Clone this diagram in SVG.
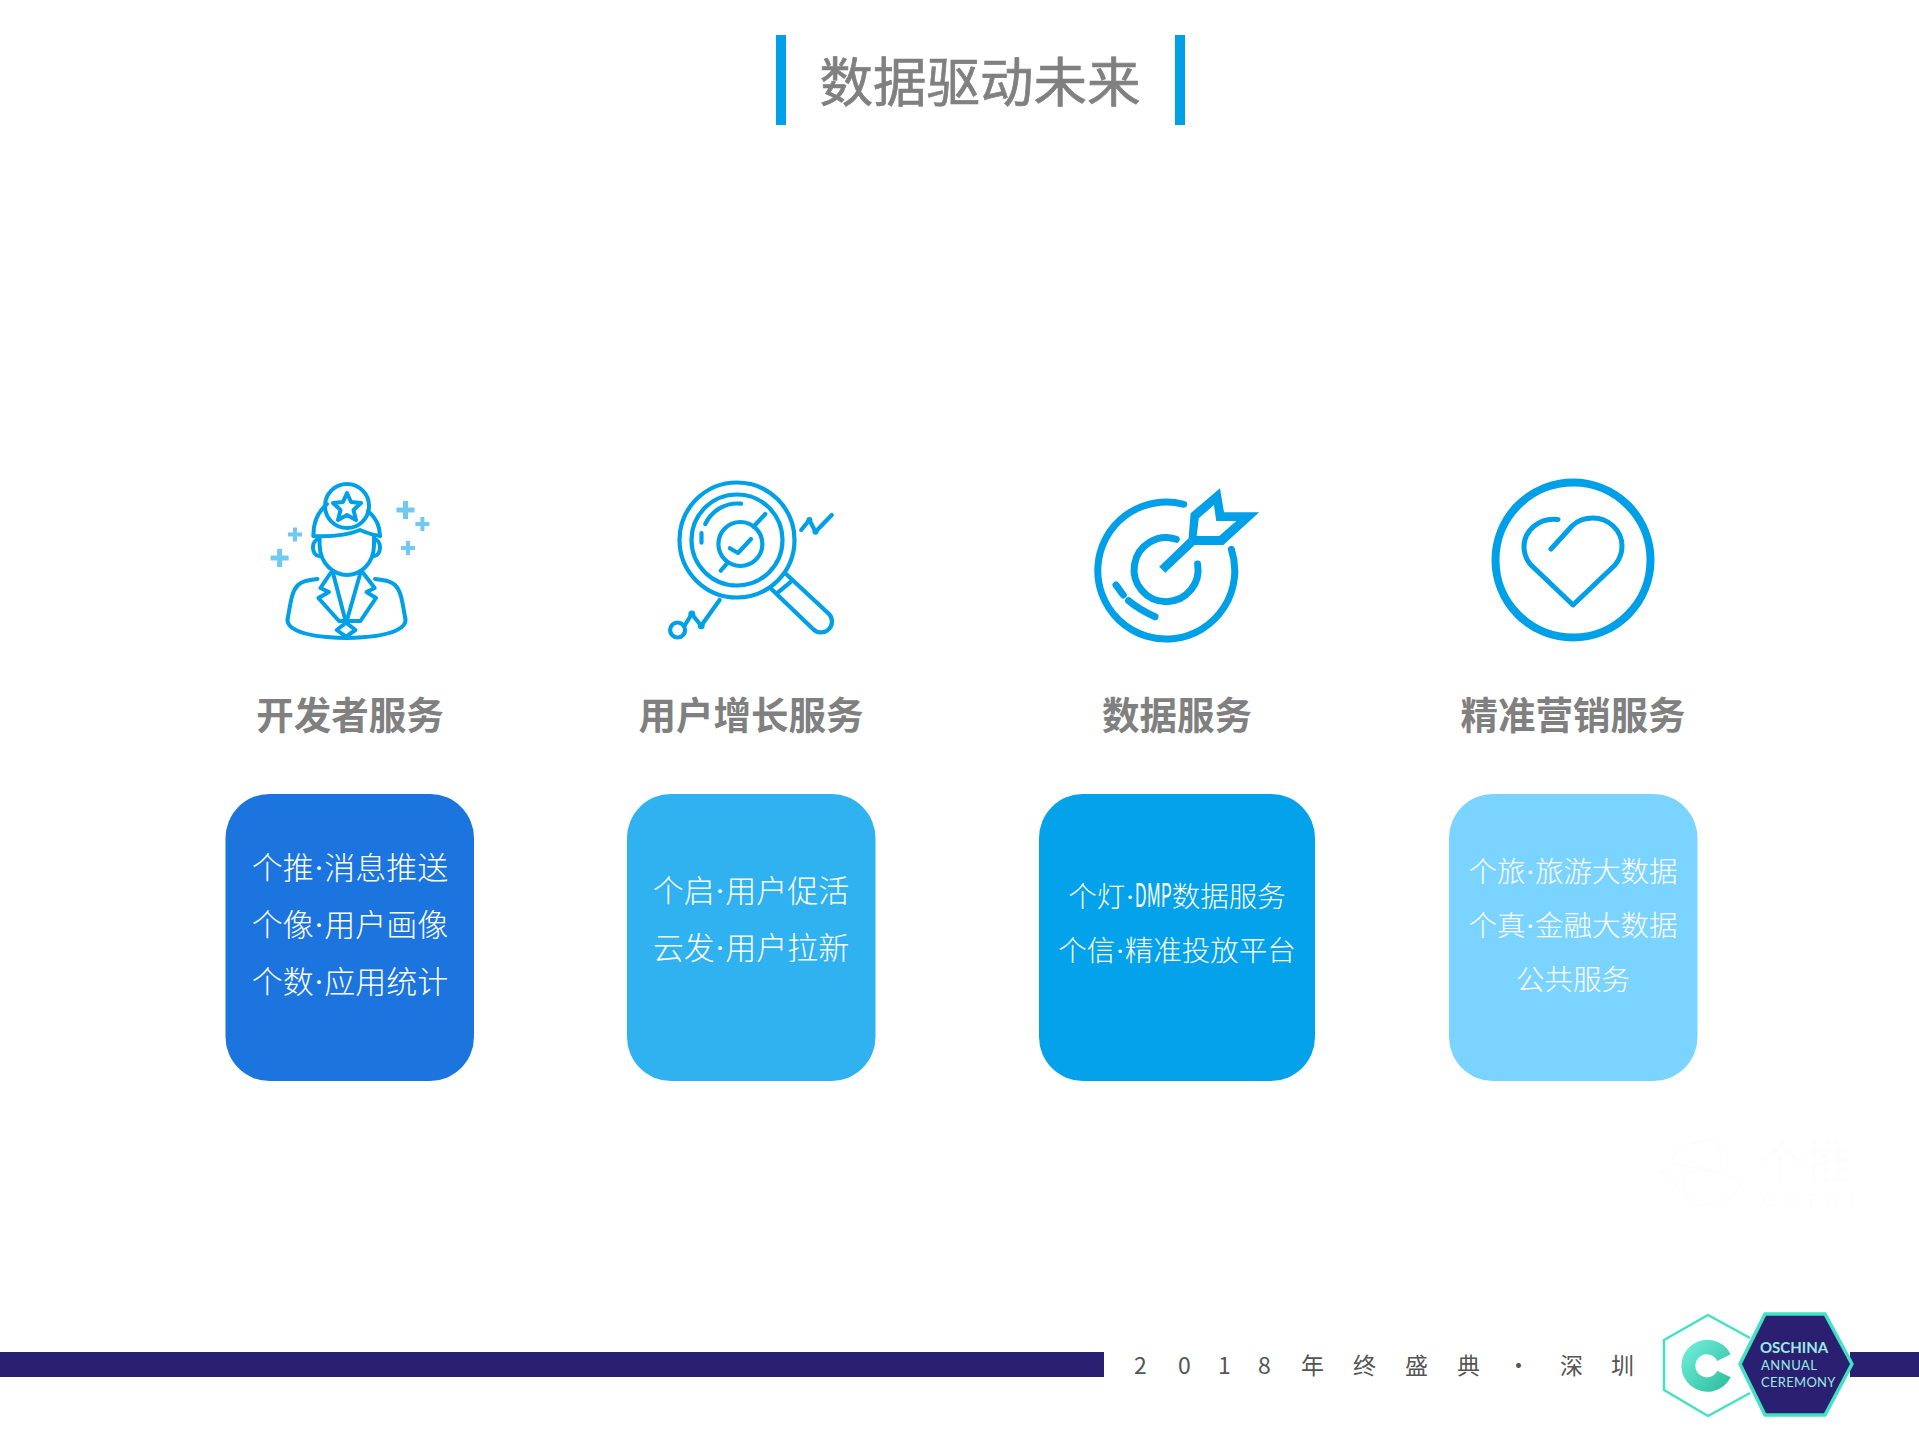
<svg xmlns="http://www.w3.org/2000/svg" width="1919" height="1439" viewBox="0 0 1919 1439">
<defs>
<linearGradient id="cg" x1="0" y1="0" x2="1" y2="1"><stop offset="0" stop-color="#72F2DE"/><stop offset="1" stop-color="#2CBB9B"/></linearGradient>
</defs>
<style>
text{font-family:"Noto Sans CJK SC","Noto Sans",sans-serif}
.bar{fill:#00A0E9}
.ic{fill:none;stroke:#00A0E9;stroke-linecap:round;stroke-linejoin:round}
.w4{stroke-width:4.200}
.fill{fill:#00A0E9;stroke:none}
.plus{fill:#6FC9F2}
.label{font-size:37.500px;font-weight:700;fill:#808080;text-anchor:middle}
.body{fill:#fff;font-size:31px;font-weight:300;text-anchor:middle}
.body2{fill:#fff;font-size:28.500px;font-weight:300;text-anchor:middle}
.dot{font-family:"Liberation Serif",serif}
.logo{fill:#9BEBE3;font-family:Lato,"Noto Sans",sans-serif}
.wm{fill:none;stroke:#FCFCFC;stroke-width:1.500}
</style>
<rect width="1919" height="1439" fill="#fff"/>

<g id="title">
<rect class="bar" x="776" y="35" width="10" height="90"/>
<rect class="bar" x="1175" y="35" width="10" height="90"/>
<text x="980" y="101.500" font-size="53.500" fill="#808080" stroke="#808080" stroke-width="0.700" text-anchor="middle">数据驱动未来</text>
</g>

<g id="icon-developer">
<g class="ic" stroke-width="4">
<circle cx="347" cy="506" r="22"/>
<polygon points="347,493 351,502 361,503 353.500,510 356,520 347,515 338,520 340.500,510 333,503 343,502"/>
<path d="M313.500 536C313 522 319 511 327 504M368 511C375 517 380 525 380 536"/>
<path d="M313.500 536C335 537 348 535 360 530C367 533 372 535 380 536"/>
<path d="M319.600 537V545C320 565 335 575 347 575C359 575 374 565 374 545V537"/>
<path d="M319 539C311 540 311 555 319 556M374 539C382 540 382 555 374 556"/>
<path d="M317.500 579C308 580 302 581 298 585C292 591 291 600 288 617C285 626 295 637 346 638C398 637 408 626 405 617C402 600 401 591 395 585C391 581 385 580 375 579"/>
<polyline points="330.600,573 320.400,588 329,592 318.400,598 339,621 360.400,621 376,598 366.500,592 374.700,588 362.400,572"/>
<path d="M333 573L345.300 620M360.400 573L347 620"/>
<polygon points="346,622.700 355.500,630 346,636.700 336.700,630"/>
</g>
<path class="plus" d="M403 501h5v6.500h6.500v5h-6.500v6.500h-5v-6.500h-6.500v-5h6.500z"/>
<path class="plus" d="M420.400 517h4v5h5v4h-5v5h-4v-5h-5v-4h5z"/>
<path class="plus" d="M293 527.500h4v5h5v4h-5v5h-4v-5h-5v-4h5z"/>
<path class="plus" d="M277.100 549h5v6.500h6.500v5h-6.500v6.500h-5v-6.500h-6.500v-5h6.500z"/>
<path class="plus" d="M406 541h4v5h5v4h-5v5h-4v-5h-5v-4h5z"/>
</g>

<g id="icon-growth">
<g class="ic w4">
<circle cx="737" cy="540" r="57.500"/>
<circle cx="737" cy="540" r="45.500"/>
<path d="M705.300 524A35.500 35.500 0 0 1 741 503.700"/>
<path d="M701.500 533L701.500 542.700"/>
<circle cx="740.400" cy="544" r="22"/>
<polyline points="729.800,548.300 738,553 751,539"/>
<path d="M753.500 526.700L765.300 514M720.800 570.700L727.800 562.700"/>
<path d="M770.600 588.300L813 629A10.500 10.500 0 0 0 829 614L785 573"/>
<path d="M776.800 593.300L792.300 580.700"/>
<polyline points="801.200,530 809.400,520 815.500,531.700 831.800,515"/>
<circle cx="677.600" cy="630" r="7.500"/>
<polyline points="684.900,625 691.800,614 701.200,625.700 719.600,600"/>
</g>
<circle class="fill" cx="809.400" cy="520" r="3"/><circle class="fill" cx="815.500" cy="531.700" r="3"/>
<circle class="fill" cx="691.800" cy="614" r="3.500"/><circle class="fill" cx="701.200" cy="625.700" r="3.500"/>
</g>

<g id="icon-target">
<g class="ic" stroke-width="7">
<path d="M1183.700 504.300A68.500 68.500 0 1 0 1231.400 549.300"/>
<path d="M1176.300 539.300A32 32 0 1 0 1197.600 564"/>
<path d="M1116 585L1123.300 595M1128.600 600.700Q1140 610 1155 616.700"/>
</g>
<path class="fill" fill-rule="evenodd" d="M1190.600 513.300L1220 488.300L1224 512.300L1259.200 512.300L1223.300 545L1193.900 545L1188.600 538.300ZM1198.800 518.300L1196.700 536L1219.200 536L1236.300 521L1216.300 521L1213.900 505Z"/>
<polygon class="fill" points="1159.200,566.700 1165.300,572.700 1194.700,545 1188.600,538.300"/>
</g>

<g id="icon-heart">
<circle class="ic" cx="1573" cy="560" r="77.500" stroke-width="8"/>
<path class="ic" stroke-width="5" d="M1558 519.500C1540 517 1524 530 1524 547C1524 555 1527 560 1530 564L1573 605L1615 565C1620 559 1622 553 1622 546C1622 530 1608 518 1593 518C1584 518 1577 521 1572 526L1551 549"/>
</g>

<g id="node-developer">
<text class="label" x="350" y="728.500">开发者服务</text>
<rect x="225.500" y="794" width="248.500" height="287" rx="44" fill="#1C75DF"/>
<text class="body" x="350" y="879">个推<tspan class="dot">·</tspan>消息推送</text>
<text class="body" x="350" y="936">个像<tspan class="dot">·</tspan>用户画像</text>
<text class="body" x="350" y="993">个数<tspan class="dot">·</tspan>应用统计</text>
</g>
<g id="node-growth">
<text class="label" x="751" y="728.500">用户增长服务</text>
<rect x="627" y="794" width="248.500" height="287" rx="44" fill="#30B2F0"/>
<text class="body" x="751" y="902">个启<tspan class="dot">·</tspan>用户促活</text>
<text class="body" x="751" y="959">云发<tspan class="dot">·</tspan>用户拉新</text>
</g>
<g id="node-data">
<text class="label" x="1177" y="728.500">数据服务</text>
<rect x="1039" y="794" width="276" height="287" rx="44" fill="#03A2EB"/>
<text class="body2" x="1177" y="907">个灯<tspan class="dot">·</tspan><tspan font-size="33" font-weight="400" textLength="37" lengthAdjust="spacingAndGlyphs">DMP</tspan>数据服务</text>
<text class="body2" x="1177" y="961">个信<tspan class="dot">·</tspan>精准投放平台</text>
</g>
<g id="node-marketing">
<text class="label" x="1573" y="728.500">精准营销服务</text>
<rect x="1449" y="794" width="248.500" height="287" rx="44" fill="#7BD4FF"/>
<text class="body2" x="1573" y="881.500">个旅<tspan class="dot">·</tspan>旅游大数据</text>
<text class="body2" x="1573" y="935.500">个真<tspan class="dot">·</tspan>金融大数据</text>
<text class="body2" x="1573" y="990">公共服务</text>
</g>

<g id="watermark">
<path class="wm" d="M1672 1162C1672 1150 1690 1142 1705 1141C1716 1140 1722 1148 1722 1160L1720 1172C1700 1165 1685 1170 1672 1162ZM1660 1170L1680 1190M1690 1172C1680 1180 1684 1200 1700 1205C1720 1208 1735 1195 1740 1185C1730 1172 1710 1168 1690 1172Z"/>
<text x="1804" y="1180" font-size="47" fill="#FDFDFD" text-anchor="middle">个推</text>
<text x="1762" y="1207" font-size="18" letter-spacing="11" fill="#FDFDFD">GeTui</text>
</g>

<g id="footer">
<rect x="0" y="1352" width="1104" height="25" fill="#2A1F70"/>
<rect x="1850" y="1352" width="69" height="25" fill="#2A1F70"/>
<text y="1374" font-size="23" fill="#555555" x="1134 1160 1178 1200 1218 1240 1258 1280 1301 1340 1353 1390 1405 1440 1457 1495 1507 1540 1560 1595 1611">2 0 1 8 年 终 盛 典 · 深 圳</text>
</g>

<g id="logo">
<polyline points="1750,1338 1708,1315 1664,1340 1664,1390 1708,1416 1750,1393" fill="none" stroke="#3FE3C2" stroke-width="2.500" stroke-linejoin="round"/>
<path fill="url(#cg)" d="M1730.700 1354.300A26 26 0 1 0 1730.700 1377.300L1717.300 1370.700A11.500 11.500 0 1 1 1717.300 1361Z"/>
<polygon points="1765,1314 1825,1314 1852,1364 1825,1415 1765,1415 1740,1364" fill="#2A1F70" stroke="#3FE3C2" stroke-width="3.500" stroke-linejoin="round"/>
<text class="logo" x="1760" y="1353" font-size="15" font-weight="700">OSCHINA</text>
<text class="logo" x="1761" y="1370" font-size="13" letter-spacing="0.500">ANNUAL</text>
<text class="logo" x="1761" y="1387" font-size="13" letter-spacing="0.300">CEREMONY</text>
</g>
</svg>
